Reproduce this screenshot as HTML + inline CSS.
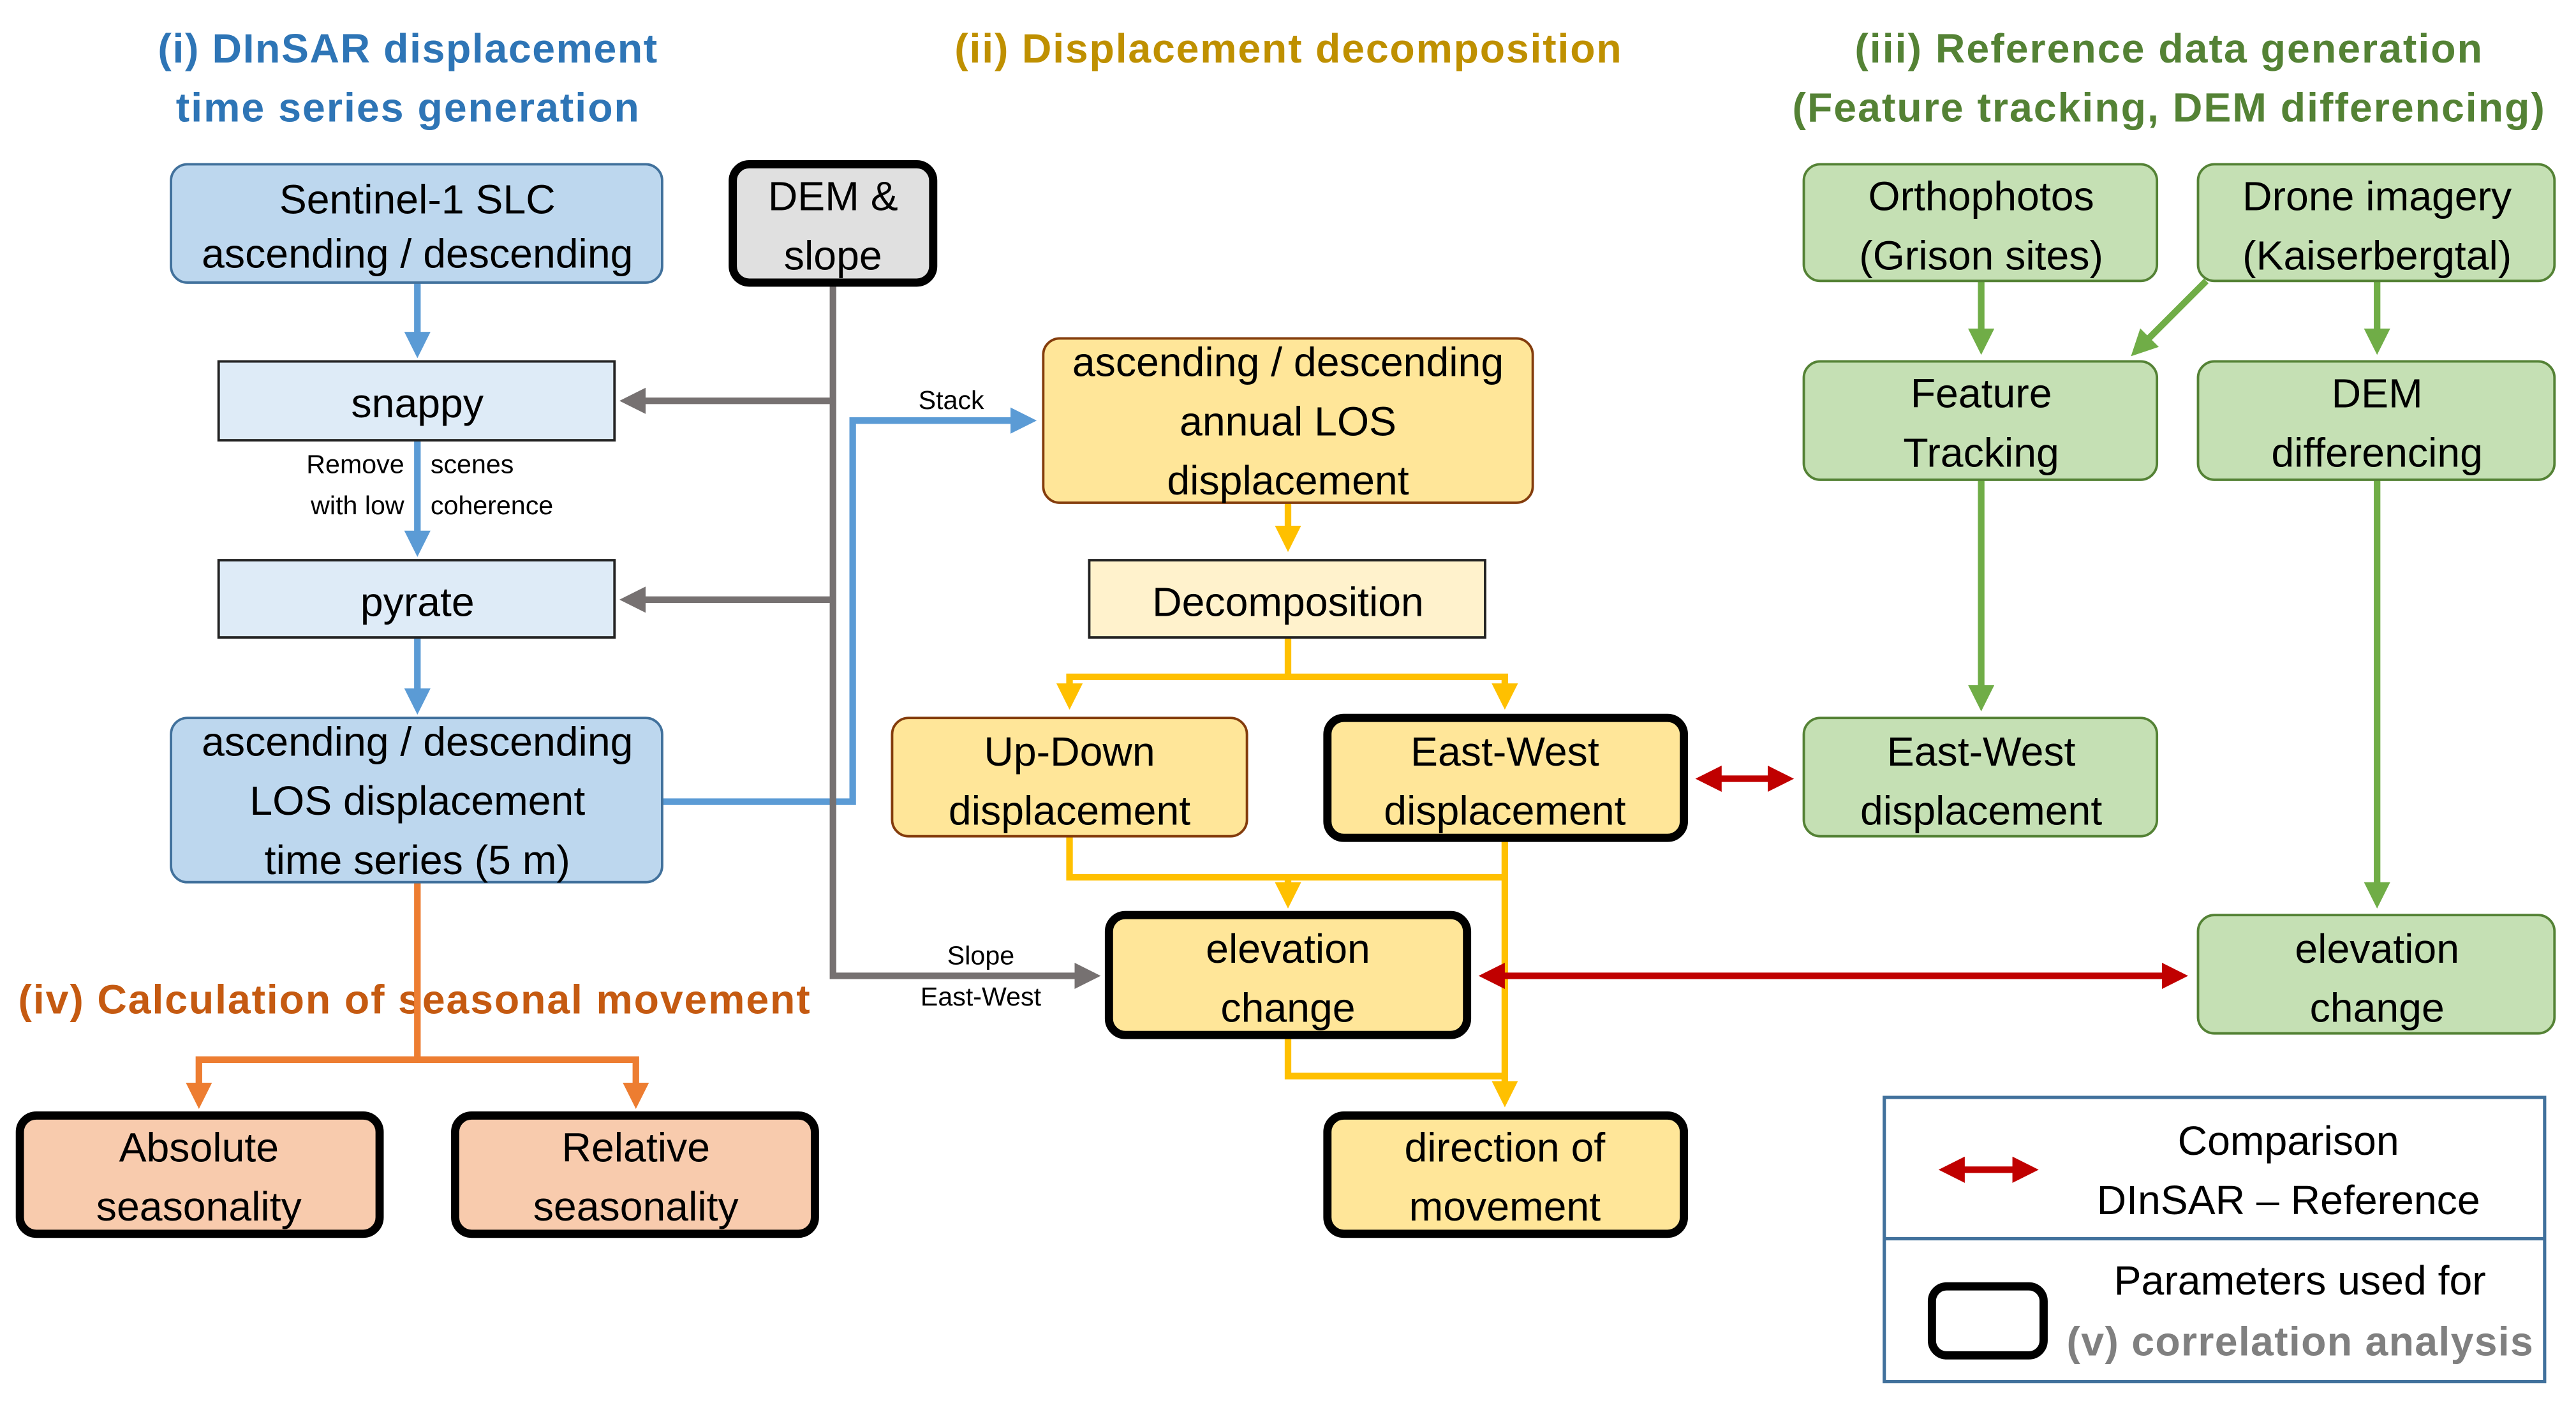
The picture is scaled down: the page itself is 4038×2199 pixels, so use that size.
<!DOCTYPE html>
<html><head><meta charset="utf-8"><style>
html,body{margin:0;padding:0;background:#fff;}
svg{display:block;}
text{font-family:"Liberation Sans",sans-serif;}
</style></head><body>
<svg width="4038" height="2199" viewBox="0 0 1568 854" xmlns="http://www.w3.org/2000/svg">
<defs>
<marker id="ab" markerWidth="4" markerHeight="4" refX="3" refY="2" orient="auto"><path d="M0,0 L4,2 L0,4 z" fill="#5B9BD5"/></marker>
<marker id="ag" markerWidth="4" markerHeight="4" refX="3" refY="2" orient="auto"><path d="M0,0 L4,2 L0,4 z" fill="#767171"/></marker>
<marker id="ay" markerWidth="4" markerHeight="4" refX="3" refY="2" orient="auto"><path d="M0,0 L4,2 L0,4 z" fill="#FFC000"/></marker>
<marker id="agr" markerWidth="4" markerHeight="4" refX="3" refY="2" orient="auto"><path d="M0,0 L4,2 L0,4 z" fill="#70AD47"/></marker>
<marker id="ao" markerWidth="4" markerHeight="4" refX="3" refY="2" orient="auto"><path d="M0,0 L4,2 L0,4 z" fill="#ED7D31"/></marker>
<marker id="ar" markerWidth="4" markerHeight="4" refX="3" refY="2" orient="auto"><path d="M0,0 L4,2 L0,4 z" fill="#C00000"/></marker>
<marker id="ars" markerWidth="4" markerHeight="4" refX="1" refY="2" orient="auto"><path d="M4,0 L0,2 L4,4 z" fill="#C00000"/></marker>
</defs>
<g font-weight="bold" font-size="25" text-anchor="middle">
<text x="248" y="38" fill="#2E75B6" textLength="304">(i) DInSAR displacement</text>
<text x="248" y="74" fill="#2E75B6" textLength="282">time series generation</text>
<text x="784" y="38" fill="#BF9000" textLength="406">(ii) Displacement decomposition</text>
<text x="1320" y="38" fill="#548235" textLength="382">(iii) Reference data generation</text>
<text x="1320" y="74" fill="#548235" textLength="458">(Feature tracking, DEM differencing)</text>
<text x="252" y="617" fill="#C55A11" textLength="482">(iv) Calculation of seasonal movement</text>
</g>
<g fill="none" stroke-width="4">
<path d="M254,172 V214" stroke="#5B9BD5" marker-end="url(#ab)"/>
<path d="M254,268 V335" stroke="#5B9BD5" marker-end="url(#ab)"/>
<path d="M254,388 V431" stroke="#5B9BD5" marker-end="url(#ab)"/>
<path d="M403,488 H519 V256 H627" stroke="#5B9BD5" marker-end="url(#ab)"/>
<path d="M507,172 V594 H666" stroke="#767171" marker-end="url(#ag)"/>
<path d="M507,244 H381" stroke="#767171" marker-end="url(#ag)"/>
<path d="M507,365 H381" stroke="#767171" marker-end="url(#ag)"/>
<path d="M784,306 V332" stroke="#FFC000" marker-end="url(#ay)"/>
<path d="M784,388 V412 H651 V428" stroke="#FFC000" marker-end="url(#ay)"/>
<path d="M784,412 H916 V428" stroke="#FFC000" marker-end="url(#ay)"/>
<path d="M651,509 V534 H916" stroke="#FFC000"/>
<path d="M784,534 V549" stroke="#FFC000" marker-end="url(#ay)"/>
<path d="M916,510 V670" stroke="#FFC000" marker-end="url(#ay)"/>
<path d="M784,630 V655 H916" stroke="#FFC000"/>
<path d="M1206,171 V212" stroke="#70AD47" marker-end="url(#agr)"/>
<path d="M1447,171 V212" stroke="#70AD47" marker-end="url(#agr)"/>
<path d="M1343,171 L1300,214" stroke="#70AD47" marker-end="url(#agr)"/>
<path d="M1206,292 V429" stroke="#70AD47" marker-end="url(#agr)"/>
<path d="M1447,292 V549" stroke="#70AD47" marker-end="url(#agr)"/>
<path d="M254,537 V645 H121 V671" stroke="#ED7D31" marker-end="url(#ao)"/>
<path d="M254,645 H387 V671" stroke="#ED7D31" marker-end="url(#ao)"/>
<path d="M1036,474 H1088" stroke="#C00000" marker-start="url(#ars)" marker-end="url(#ar)"/>
<path d="M904,594 H1328" stroke="#C00000" marker-start="url(#ars)" marker-end="url(#ar)"/>
<path d="M1184,712 H1237" stroke="#C00000" marker-start="url(#ars)" marker-end="url(#ar)"/>
</g>
<g>
<rect x="104" y="100" width="299" height="72" rx="10" fill="#BDD7EE" stroke="#41719C" stroke-width="1.5"/>
<rect x="446" y="100" width="122" height="72" rx="10" fill="#E0E0E0" stroke="#000" stroke-width="5"/>
<rect x="133" y="220" width="241" height="48" fill="#DEEBF7" stroke="#222" stroke-width="1.5"/>
<rect x="133" y="341" width="241" height="47" fill="#DEEBF7" stroke="#222" stroke-width="1.5"/>
<rect x="104" y="437" width="299" height="100" rx="10" fill="#BDD7EE" stroke="#41719C" stroke-width="1.5"/>
<rect x="635" y="206" width="298" height="100" rx="10" fill="#FFE699" stroke="#843C0C" stroke-width="1.5"/>
<rect x="663" y="341" width="241" height="47" fill="#FFF2CC" stroke="#222" stroke-width="1.5"/>
<rect x="543" y="437" width="216" height="72" rx="10" fill="#FFE699" stroke="#843C0C" stroke-width="1.5"/>
<rect x="808" y="437" width="217" height="73" rx="10" fill="#FFE699" stroke="#000" stroke-width="5"/>
<rect x="675" y="557" width="218" height="73" rx="10" fill="#FFE699" stroke="#000" stroke-width="5"/>
<rect x="808" y="679" width="217" height="72" rx="10" fill="#FFE699" stroke="#000" stroke-width="5"/>
<rect x="12" y="679" width="219" height="72" rx="10" fill="#F8CBAD" stroke="#000" stroke-width="5"/>
<rect x="277" y="679" width="219" height="72" rx="10" fill="#F8CBAD" stroke="#000" stroke-width="5"/>
<g fill="#C5E0B4" stroke="#548235" stroke-width="1.5">
<rect x="1098" y="100" width="215" height="71" rx="10"/>
<rect x="1338" y="100" width="217" height="71" rx="10"/>
<rect x="1098" y="220" width="215" height="72" rx="10"/>
<rect x="1338" y="220" width="217" height="72" rx="10"/>
<rect x="1098" y="437" width="215" height="72" rx="10"/>
<rect x="1338" y="557" width="217" height="72" rx="10"/>
</g>
<rect x="1147" y="668" width="402" height="173" fill="none" stroke="#41719C" stroke-width="2"/>
<line x1="1147" y1="754" x2="1549" y2="754" stroke="#41719C" stroke-width="2"/>
<rect x="1176" y="783" width="68" height="42" rx="9" fill="none" stroke="#000" stroke-width="5"/>
</g>
<g font-size="25" text-anchor="middle" fill="#000">
<text x="254" y="130">Sentinel-1 SLC</text><text x="254" y="163">ascending / descending</text>
<text x="507" y="128">DEM &amp;</text><text x="507" y="164">slope</text>
<text x="254" y="254">snappy</text>
<text x="254" y="375">pyrate</text>
<text x="254" y="460">ascending / descending</text><text x="254" y="496">LOS displacement</text><text x="254" y="532">time series (5 m)</text>
<text x="784" y="229">ascending / descending</text><text x="784" y="265">annual LOS</text><text x="784" y="301">displacement</text>
<text x="784" y="375">Decomposition</text>
<text x="651" y="466">Up-Down</text><text x="651" y="502">displacement</text>
<text x="916" y="466">East-West</text><text x="916" y="502">displacement</text>
<text x="784" y="586">elevation</text><text x="784" y="622">change</text>
<text x="916" y="707">direction of</text><text x="916" y="743">movement</text>
<text x="121" y="707">Absolute</text><text x="121" y="743">seasonality</text>
<text x="387" y="707">Relative</text><text x="387" y="743">seasonality</text>
<text x="1206" y="128">Orthophotos</text><text x="1206" y="164">(Grison sites)</text>
<text x="1447" y="128">Drone imagery</text><text x="1447" y="164">(Kaiserbergtal)</text>
<text x="1206" y="248">Feature</text><text x="1206" y="284">Tracking</text>
<text x="1447" y="248">DEM</text><text x="1447" y="284">differencing</text>
<text x="1206" y="466">East-West</text><text x="1206" y="502">displacement</text>
<text x="1447" y="586">elevation</text><text x="1447" y="622">change</text>
<text x="1393" y="703">Comparison</text><text x="1393" y="739">DInSAR – Reference</text>
<text x="1400" y="788">Parameters used for</text>
<text x="1400" y="825" font-weight="bold" fill="#808080" textLength="284">(v) correlation analysis</text>
</g>
<g font-size="16" fill="#000">
<text x="246" y="288" text-anchor="end">Remove</text><text x="262" y="288">scenes</text>
<text x="246" y="313" text-anchor="end">with low</text><text x="262" y="313">coherence</text>
<text x="579" y="249" text-anchor="middle">Stack</text>
<text x="597" y="587" text-anchor="middle">Slope</text>
<text x="597" y="612" text-anchor="middle">East-West</text>
</g>
</svg>
</body></html>
